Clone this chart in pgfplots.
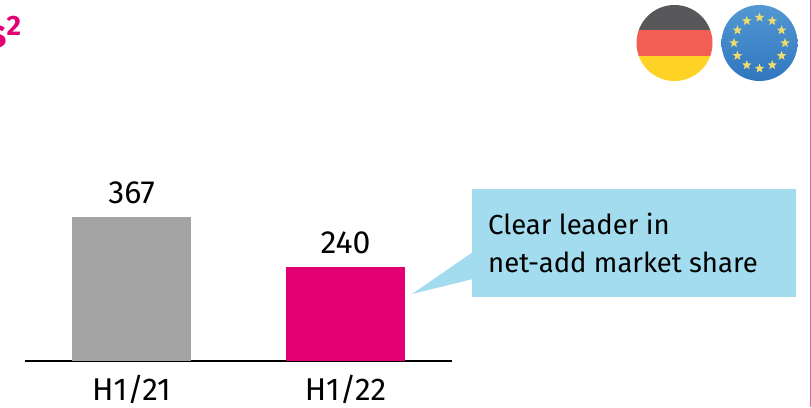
\documentclass[border=0pt]{standalone}
\usepackage{fontspec}
\setmainfont{Fira Sans}
\usepackage{pgfplots}
\pgfplotsset{compat=1.18}
\usetikzlibrary{shapes.geometric,calc}
\definecolor{tmag}{HTML}{E20074}
\definecolor{tgray}{HTML}{A3A3A3}
\definecolor{tblue}{HTML}{A3DCEE}
\definecolor{fdark}{HTML}{58585A}
\definecolor{fred}{HTML}{F35E54}
\definecolor{fyel}{HTML}{FFD326}
\definecolor{eutop}{HTML}{5298D4}
\definecolor{eubot}{HTML}{3076BE}
\definecolor{eustar}{HTML}{F0DC6E}
\definecolor{rulec}{HTML}{DB6BA3}
\begin{document}
\begin{tikzpicture}[x=1pt,y=1pt]
\clip (0,0) rectangle (811,407);
\fill[white] (0,0) rectangle (811,407);
\begin{axis}[
  at={(25pt,46pt)}, anchor=south west,
  scale only axis, width=427pt, height=144pt,
  xmin=-0.4977, xmax=1.4977, ymin=0, ymax=367,
  clip=false,
  axis y line=none, axis x line*=bottom,
  axis line style={black,line width=1.5pt,-},
  xtick={0,1}, xticklabels={H1/21,H1/22},
  major tick length=0pt,
  xticklabel style={font=\fontsize{31.5}{34}\selectfont, text=black, anchor=base, yshift=-39pt},
  ybar, bar width=119pt, bar shift=0pt,
  nodes near coords,
  nodes near coords style={font=\fontsize{32}{34}\selectfont, text=black, anchor=base, yshift=13.5pt},
  /pgf/number format/assume math mode=true,
]
\addplot[fill=tgray,draw=none] coordinates {(0,367)};
\addplot[fill=tmag,draw=none] coordinates {(1,240)};
\end{axis}
% callout
\fill[tblue] (472,218) rectangle (796,110);
\fill[tblue] (473,155) -- (412,113) -- (473,128) -- cycle;
\node[anchor=base west,inner sep=0pt,font=\fontsize{27.5}{30}\selectfont] at (488,172.5) {Clear leader in};
\node[anchor=base west,inner sep=0pt,font=\fontsize{27.5}{30}\selectfont] at (488,134.5) {net-add market share};
% title fragment
\node[anchor=base east,inner sep=0pt,text=tmag,font=\fontsize{40}{42}\selectfont\bfseries] at (7,359) {s};
\node[anchor=base west,inner sep=0pt,text=tmag,font=\fontsize{28}{30}\selectfont\bfseries] at (6.5,371.5) {2};
% German flag
\begin{scope}
\clip (674.5,364) circle (38);
\fill[fdark] (630,407) rectangle (720,377);
\fill[fred] (630,377) rectangle (720,351);
\fill[fyel] (630,351) rectangle (720,320);
\end{scope}
% EU flag
\shade[top color=eutop,bottom color=eubot] (759.5,364) circle (38);
\foreach \a in {0,30,...,330}
  \node[star,star points=5,star point ratio=2.4,fill=eustar,inner sep=0pt,minimum size=10pt] at ($(759.5,364)+(\a:25.5)$) {};
% right rule
\fill[rulec] (809.5,0) rectangle (811,407);
\end{tikzpicture}
\end{document}
